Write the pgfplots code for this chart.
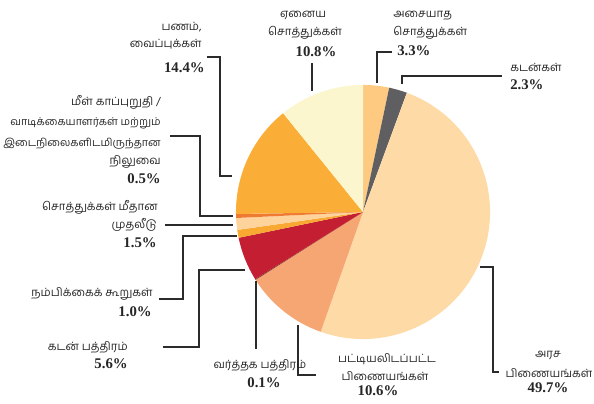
\documentclass[border=0pt]{standalone}
\usepackage{fontspec}
\setmainfont{Liberation Serif}
\newfontfamily\tamil[Script=Tamil]{Hind Madurai}
\usepackage{pgfplots}
\usepackage{pgfplotstable}
\pgfplotsset{compat=1.18}

\definecolor{cImm}{HTML}{FEC980}
\definecolor{cLoan}{HTML}{5F5F61}
\definecolor{cGov}{HTML}{FEDAA6}
\definecolor{cList}{HTML}{F5A673}
\definecolor{cComm}{HTML}{7A3B2E}
\definecolor{cDeb}{HTML}{C41E33}
\definecolor{cUnit}{HTML}{F9A932}
\definecolor{cInv}{HTML}{FED39C}
\definecolor{cRe}{HTML}{EF7B32}
\definecolor{cCash}{HTML}{FBAE37}
\definecolor{cOther}{HTML}{FBF6CE}
\definecolor{lead}{HTML}{2B2B2B}

\pgfplotstableread{
value color
3.3 cImm
2.3 cLoan
49.7 cGov
10.6 cList
0.1 cComm
5.6 cDeb
1.0 cUnit
1.5 cInv
0.5 cRe
14.4 cCash
10.8 cOther
}\piedata

\pgfplotstablegetrowsof{\piedata}\pgfmathtruncatemacro\nrows{\pgfplotsretval-1}
\gdef\total{0}
\pgfplotsforeachungrouped \i in {0,...,\nrows}{%
  \pgfplotstablegetelem{\i}{value}\of\piedata
  \pgfmathsetmacro\tmp{\total+\pgfplotsretval}\xdef\total{\tmp}}
\gdef\cum{0}
\pgfplotsforeachungrouped \i in {0,...,\nrows}{%
  \pgfplotstablegetelem{\i}{value}\of\piedata \let\sv\pgfplotsretval
  \pgfplotstablegetelem{\i}{color}\of\piedata \let\sc\pgfplotsretval
  \pgfmathsetmacro\sa{90-360*(\cum/\total)}%
  \pgfmathsetmacro\tmp{\cum+\sv}\xdef\cum{\tmp}%
  \pgfmathsetmacro\sb{90-360*(\cum/\total)}%
  \expandafter\xdef\csname slice\i\endcsname{\noexpand\fill[\sc] (363,191) -- ++(\sa:3.175cm) arc[start angle=\sa, end angle=\sb, radius=3.175cm] -- cycle;}%
}

\tikzset{
  tl/.style={font=\tamil\fontsize{8.1}{10}\selectfont, inner sep=0pt, text=black!85},
  tls/.style={font=\tamil\fontsize{7.6}{10}\selectfont, inner sep=0pt, text=black!85},
  pl/.style={font=\bfseries\fontsize{10.5}{12}\selectfont, inner sep=0pt, text=black!85},
  ld/.style={draw=lead, line width=0.75pt}
}

\begin{document}
\begin{tikzpicture}
\begin{axis}[x=0.025cm, y=0.025cm, xmin=0, xmax=594, ymin=0, ymax=403,
  hide axis, clip=false, enlargelimits=false]
\coordinate (BL) at (0,0);
\coordinate (TR) at (594,403);
\pgfplotsinvokeforeach{0,...,10}{\csname slice#1\endcsname}

% leader lines
\draw[ld] (207,346) -- (220,346) -- (220,227) -- (232,227);
\draw[ld] (170,267) -- (200,267) -- (200,187) -- (233,187);
\draw[ld] (165,178) -- (233,178);
\draw[ld] (159,104) -- (183,104) -- (183,167) -- (237,167);
\draw[ld] (163,56) -- (199,56) -- (199,133) -- (245,133);
\draw[ld] (256,122) -- (256,54);
\draw[ld] (298,78) -- (298,28) -- (316,28);
\draw[ld] (480,136) -- (493,136) -- (493,31) -- (499,31);
\draw[ld] (312,340) -- (312,312);
\draw[ld] (392,351) -- (377,351) -- (377,320);
\draw[ld] (502,327) -- (402,327) -- (402,319);

% labels
\node[tl, anchor=base east] at (202,372) {பணம்,};
\node[tl, anchor=base east] at (202,355) {வைப்புக்கள்};
\node[pl, anchor=base east] at (205,330) {14.4\%};

\node[tl, anchor=base east] at (161,297) {மீள் காப்புறுதி /};
\node[tls, anchor=base east] at (161,277) {வாடிக்கையாளர்கள் மற்றும்};
\node[tls, anchor=base east] at (161,257) {இடைநிலைகளிடமிருந்தான};
\node[tl, anchor=base east] at (161,238) {நிலுவை};
\node[pl, anchor=base east] at (161,220) {0.5\%};

\node[tl, anchor=base east] at (158,193) {சொத்துக்கள் மீதான};
\node[tl, anchor=base east] at (157,174) {முதலீடு};
\node[pl, anchor=base east] at (157,155) {1.5\%};

\node[tl, anchor=base east] at (153,106) {நம்பிக்கைக் கூறுகள்};
\node[pl, anchor=base east] at (152,87) {1.0\%};

\node[tl, anchor=base east] at (128,53) {கடன் பத்திரம்};
\node[pl, anchor=base east] at (128,35) {5.6\%};

\node[tl, anchor=base] at (260,35) {வர்த்தக பத்திரம்};
\node[pl, anchor=base] at (264,16) {0.1\%};

\node[tl, anchor=base] at (387,41) {பட்டியலிடப்பட்ட};
\node[tl, anchor=base] at (385,23) {பிணையங்கள்};
\node[pl, anchor=base] at (378,8) {10.6\%};

\node[tl, anchor=base] at (548,46) {அரச};
\node[tl, anchor=base] at (549,26) {பிணையங்கள்};
\node[pl, anchor=base] at (548,11) {49.7\%};

\node[tl, anchor=base] at (303,385) {ஏனைய};
\node[tl, anchor=base] at (305,367) {சொத்துக்கள்};
\node[pl, anchor=base] at (316,346) {10.8\%};

\node[tl, anchor=base west] at (393,385) {அசையாத};
\node[tl, anchor=base west] at (393,367) {சொத்துக்கள்};
\node[pl, anchor=base west] at (397,347) {3.3\%};

\node[tl, anchor=base west] at (510,331) {கடன்கள்};
\node[pl, anchor=base west] at (510,313) {2.3\%};
\end{axis}
\pgfresetboundingbox
\path[use as bounding box] (BL) rectangle (TR);
\end{tikzpicture}
\end{document}
